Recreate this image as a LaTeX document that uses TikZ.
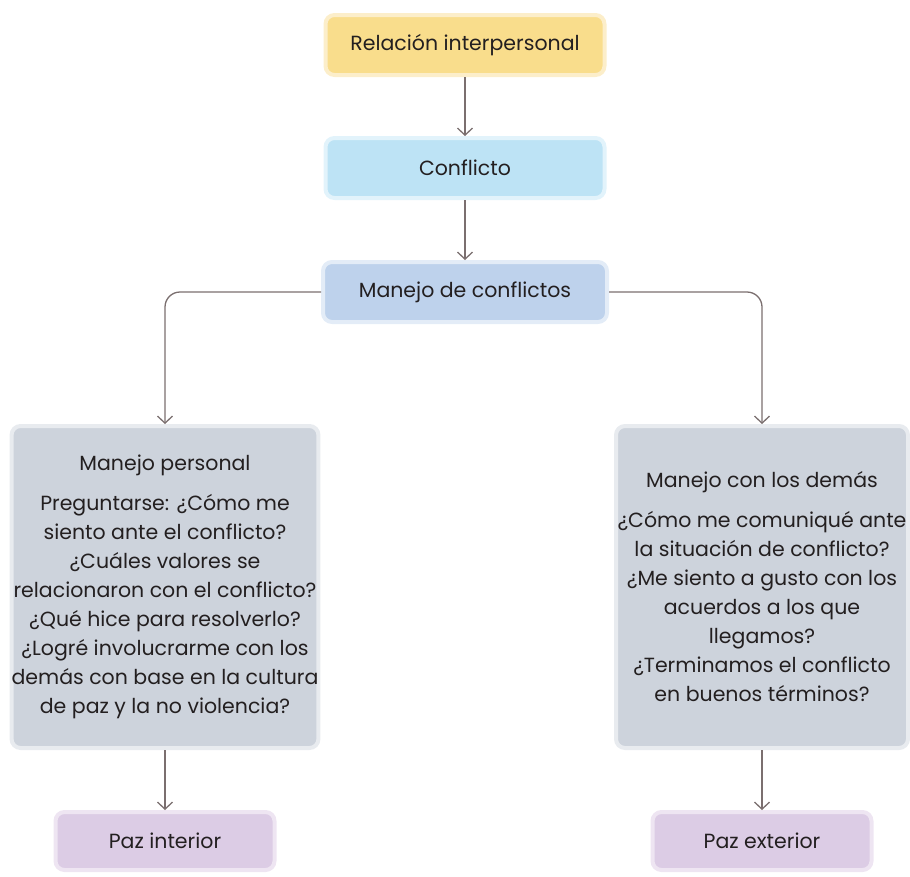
\documentclass[tikz,border=0pt]{standalone}
\usepackage{fontspec}
\setmainfont{Poppins}
\usetikzlibrary{arrows.meta}

\definecolor{ink}{HTML}{231F20}
\definecolor{linegray}{HTML}{7B6F6F}
\definecolor{yellowbox}{HTML}{F9DD8C}
\definecolor{yellowrim}{HTML}{FCEECA}
\definecolor{bluebox}{HTML}{BDE3F5}
\definecolor{bluerim}{HTML}{E2F3FB}
\definecolor{steelbox}{HTML}{BED2EC}
\definecolor{steelrim}{HTML}{E3ECF7}
\definecolor{graybox}{HTML}{CDD3DC}
\definecolor{grayrim}{HTML}{E8EBEF}
\definecolor{lilacbox}{HTML}{DCCCE5}
\definecolor{lilacrim}{HTML}{EEE5F2}

\begin{document}
\begin{tikzpicture}[x=1pt, y=-1pt,
  every node/.style = {shape=rectangle, rounded corners=9pt,
    align=center, text=ink, line width=4pt, inner sep=0pt,
    font=\fontsize{20.5}{29}\selectfont},
  small/.style = {minimum width=279pt, minimum height=60pt},
  big/.style = {fill=graybox, draw=grayrim,
    minimum width=306pt, minimum height=322pt},
  paz/.style = {fill=lilacbox, draw=lilacrim,
    minimum width=219pt, minimum height=58pt},
  link/.style = {draw=linegray, line width=1.3pt,
    -{Straight Barb[length=7pt,width=15pt]}}]

  \useasboundingbox (0,0) rectangle (910,876);

  \node[small, fill=yellowbox, draw=yellowrim] (rel) at (465,45)
    {Relación interpersonal};
  \node[small, fill=bluebox, draw=bluerim] (conf) at (465,168)
    {Conflicto};
  \node[small, minimum width=284pt, fill=steelbox, draw=steelrim] (man) at (465,292)
    {Manejo de conflictos};

  \node[big] (pers) at (165,587)
    {Manejo personal\\[11pt]
     Preguntarse: ¿Cómo me\\ siento ante el conflicto?\\
     ¿Cuáles valores se\\ relacionaron con el conflicto?\\
     ¿Qué hice para resolverlo?\\ ¿Logré involucrarme con los\\
     demás con base en la cultura\\ de paz y la no violencia?};
  \node[big, minimum width=292pt] (dem) at (762,587)
    {Manejo con los demás\\[11pt]
     ¿Cómo me comuniqué ante\\ la situación de conflicto?\\
     ¿Me siento a gusto con los\\ acuerdos a los que\\ llegamos?\\
     ¿Terminamos el conflicto\\ en buenos términos?};

  \node[paz] (int) at (165,841) {Paz interior};
  \node[paz] (ext) at (762,841) {Paz exterior};

  % connectors
  \draw[link] (rel) -- (conf);
  \draw[link] (conf) -- (man);
  \draw[link, rounded corners=15pt] (man.west) -| (pers.north);
  \draw[link, rounded corners=15pt] (man.east) -| (dem.north);
  \draw[link] (pers) -- (int);
  \draw[link] (dem) -- (ext);
\end{tikzpicture}
\end{document}
